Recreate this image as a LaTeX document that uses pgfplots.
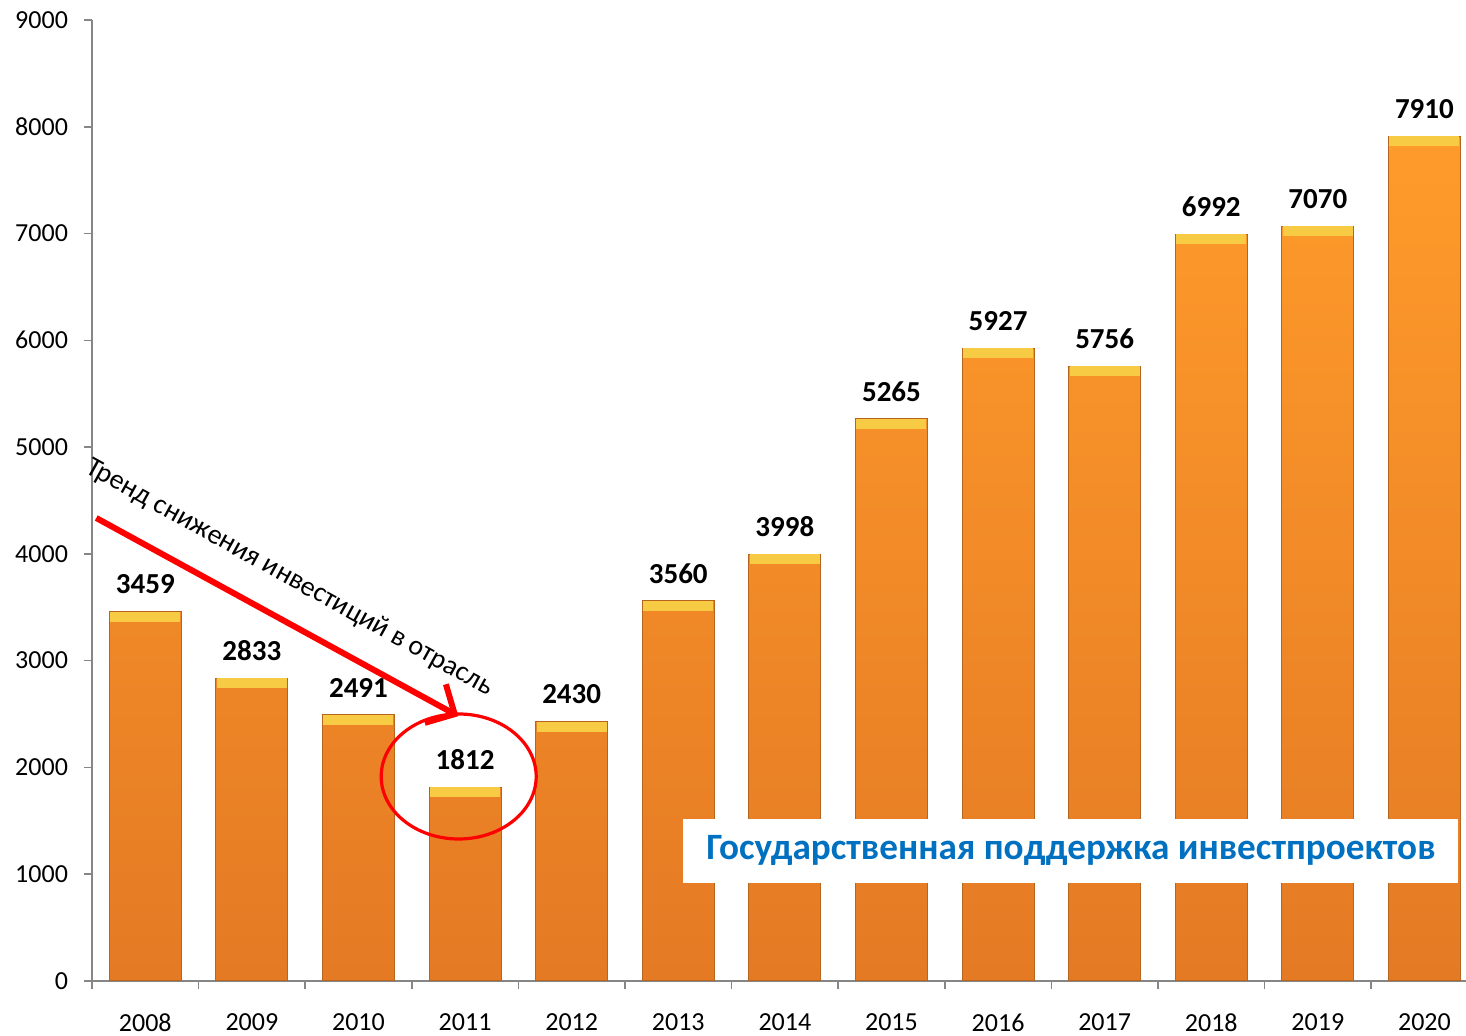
\documentclass[border=0pt]{standalone}
\usepackage{pgfplots}
\pgfplotsset{compat=1.18}
\usepackage{fontspec}
\setmainfont{Carlito}
\usetikzlibrary{arrows.meta, calc}

\definecolor{barTop}{HTML}{FF9B2B}
\definecolor{barBot}{HTML}{E47A24}
\definecolor{barEdge}{HTML}{B5651E}
\definecolor{bevelCol}{HTML}{F8CB45}
\definecolor{axisGray}{HTML}{868686}
\definecolor{bannerBlue}{HTML}{0070C0}

% flat yellow cap on top of each bar
\pgfdeclareplotmark{bevel}{%
  \pgfpathrectangle{\pgfpoint{-17.5pt}{-5pt}}{\pgfpoint{35pt}{5pt}}%
  \pgfusepath{fill}}

\begin{document}
\begin{tikzpicture}
\begin{axis}[
    name=ax,
    scale only axis,
    width=687pt, height=480.5pt,
    xmin=-0.5, xmax=12.39,
    ymin=0, ymax=9000,
    axis x line*=bottom, axis y line*=left,
    axis line style={draw=axisGray, line width=0.8pt},
    xtick={0,...,12},
    xticklabels={2008,2009,2010,2011,2012,2013,2014,2015,2016,2017,2018,2019,2020},
    minor xtick={-0.5,0.5,...,11.5},
    ytick={0,1000,...,9000},
    tick align=outside,
    major tick length=4pt, minor tick length=4pt,
    tick style={draw=axisGray, line width=0.8pt},
    major x tick style={draw=none},
    scaled y ticks=false,
    /pgf/number format/1000 sep={},
    /pgf/number format/assume math mode=true,
    tick label style={font=\fontsize{13}{15}\selectfont},
    xticklabel style={yshift=-9pt},
    yticklabel style={xshift=-4.5pt},
    clip=false,
]

% values
\addplot[ybar, bar width=36pt, draw=barEdge, line width=0.5pt,
    top color=barTop, bottom color=barBot,
    nodes near coords,
    nodes near coords style={font=\bfseries\fontsize{14.5}{17}\selectfont,
        anchor=south, inner sep=0pt, yshift=8.5pt}]
coordinates {
    (0,3459) (1,2833) (2,2491) (3,1812) (4,2430) (5,3560) (6,3998)
    (7,5265) (8,5927) (9,5756) (10,6992) (11,7070) (12,7910)
};

\addplot[only marks, mark=bevel, mark options={fill=bevelCol, draw=none}]
coordinates {
    (0,3459) (1,2833) (2,2491) (3,1812) (4,2430) (5,3560) (6,3998)
    (7,5265) (8,5927) (9,5756) (10,6992) (11,7070) (12,7910)
};

% annotations
\draw[red, line width=3pt, -{Straight Barb[length=11pt, width=22pt]}]
    (axis cs:-0.46,4336) -- (axis cs:2.937,2480);
\draw[red, line width=1.6pt] (axis cs:2.94,1915) ellipse [x radius=38.75pt, y radius=31.25pt];
\node[rotate=-29, anchor=north west, inner sep=0pt, font=\fontsize{14}{16}\selectfont]
    at (axis cs:-0.488,4926) {Тренд снижения инвестиций в отрасль};
\node[fill=white, minimum width=387.5pt, minimum height=32pt, inner sep=0pt,
    text=bannerBlue, font=\bfseries\fontsize{18.6}{21}\selectfont]
    at (axis cs:8.684,1220) {Государственная поддержка инвестпроектов};
\end{axis}
\pgfresetboundingbox
\path[use as bounding box] ($(ax.south west)+(-46pt,-27.5pt)$) rectangle ($(ax.north east)+(0pt,10pt)$);
\end{tikzpicture}
\end{document}
